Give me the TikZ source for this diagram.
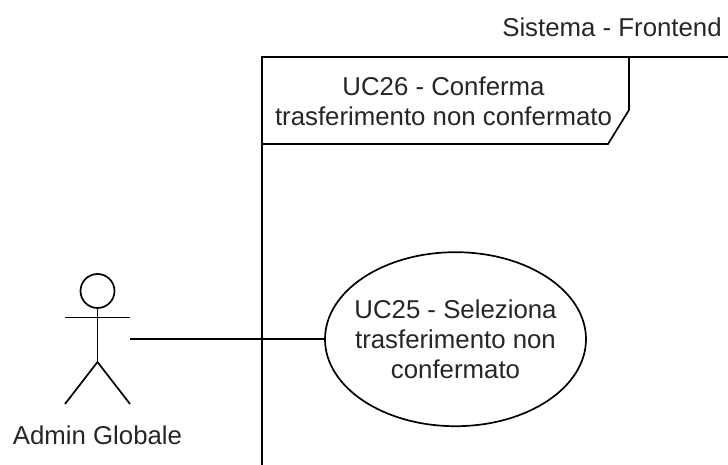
\documentclass[tikz,border=0pt]{standalone}
\usepackage{fontspec}
\setmainfont{Liberation Sans}
\usetikzlibrary{shapes.geometric}
\tikzset{
  lbl/.style={inner sep=0pt,outer sep=0pt,align=center,text=black!85,font=\fontsize{25.8}{30}\selectfont},
  ln/.style={draw=black,line width=1.7pt},
  uc/.style={ln,ellipse,inner sep=-40pt,outer sep=0pt,minimum width=261pt,minimum height=174pt,align=center,text=black!85,font=\fontsize{25.8}{30}\selectfont},
  headc/.style={ln,circle,inner sep=0pt,outer sep=0pt,minimum size=34pt}
}
\begin{document}
\begin{tikzpicture}[x=1pt,y=-1pt]
\useasboundingbox (0,0) rectangle (728,465);
% frame
\coordinate (fbl) at (262,465);
\coordinate (ftl) at (262,57);
\coordinate (ftr) at (728,57);
\draw[ln] (fbl) -- (ftl) -- (ftr);
% header pentagon
\coordinate (ht) at (629,57);
\coordinate (hc) at (629,110);
\coordinate (hb) at (608,144);
\coordinate (hl) at (262,144);
\draw[ln,line join=miter] (ht) -- (hc) -- (hb) -- (hl);
\node[lbl] (sys) at (612,27) {Sistema - Frontend};
\node[lbl] (hdr) at (443.5,101) {UC26 - Conferma\\trasferimento non confermato};
% actor
\node[headc] (head) at (97.5,291) {};
\coordinate (hip) at (97.5,362);
\coordinate (arml) at (65,317.5);
\coordinate (armr) at (130,317.5);
\coordinate (legl) at (65,404);
\coordinate (legr) at (130,404);
\draw[ln] (head.south) -- (hip);
\draw[ln] (arml) -- (armr);
\draw[ln] (legl) -- (hip) -- (legr);
\node[lbl] (actor) at (97.5,435) {Admin Globale};
% use case
\node[uc] (uc25) at (455.5,339.2) {UC25 - Seleziona\\trasferimento non\\confermato};
\coordinate (aport) at (130,339.2);
\draw[ln] (aport) -- (uc25.west);
\end{tikzpicture}
\end{document}
